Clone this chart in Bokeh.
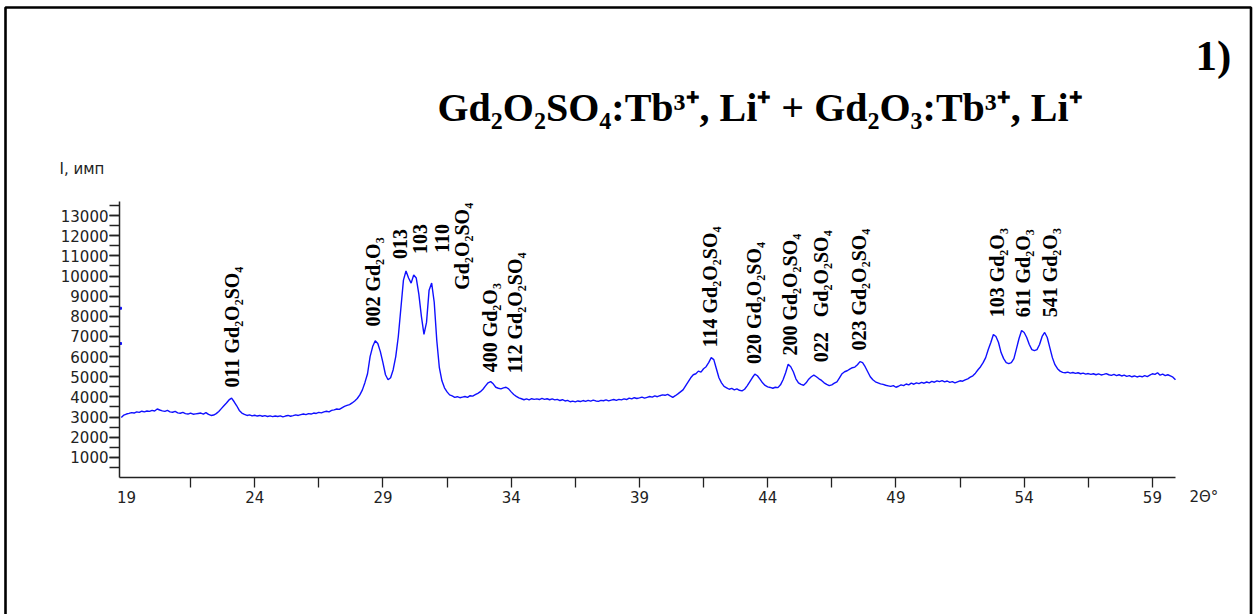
import math
from bokeh.plotting import figure
from bokeh.models import Range1d, FixedTicker, Label, ColumnDataSource, LinearAxis
from bokeh.embed import file_html
from bokeh.resources import INLINE
from bokeh.core.properties import value

# ---------------- data ----------------
two_theta = [
    18.8, 18.9,
    19.0, 19.1, 19.2, 19.3, 19.4, 19.5, 19.6, 19.7, 19.8, 19.9,
    20.0, 20.1, 20.2, 20.3, 20.4, 20.5, 20.6, 20.7, 20.8, 20.9,
    21.0, 21.1, 21.2, 21.3, 21.4, 21.5, 21.6, 21.7, 21.8, 21.9,
    22.0, 22.1, 22.2, 22.3, 22.4, 22.5, 22.6, 22.7, 22.8, 22.9,
    23.0, 23.1, 23.2, 23.3, 23.4, 23.5, 23.6, 23.7, 23.8, 23.9,
    24.0, 24.1, 24.2, 24.3, 24.4, 24.5, 24.6, 24.7, 24.8, 24.9,
    25.0, 25.1, 25.2, 25.3, 25.4, 25.5, 25.6, 25.7, 25.8, 25.9,
    26.0, 26.1, 26.2, 26.3, 26.4, 26.5, 26.6, 26.7, 26.8, 26.9,
    27.0, 27.1, 27.2, 27.3, 27.4, 27.5, 27.6, 27.7, 27.8, 27.9,
    28.0, 28.1, 28.2, 28.3, 28.4, 28.5, 28.6, 28.7, 28.8, 28.9,
    29.0, 29.1, 29.2, 29.3, 29.4, 29.5, 29.6, 29.7, 29.8, 29.9,
    30.0, 30.1, 30.2, 30.3, 30.4, 30.5, 30.6, 30.7, 30.8, 30.9,
    31.0, 31.1, 31.2, 31.3, 31.4, 31.5, 31.6, 31.7, 31.8, 31.9,
    32.0, 32.1, 32.2, 32.3, 32.4, 32.5, 32.6, 32.7, 32.8, 32.9,
    33.0, 33.1, 33.2, 33.3, 33.4, 33.5, 33.6, 33.7, 33.8, 33.9,
    34.0, 34.1, 34.2, 34.3, 34.4, 34.5, 34.6, 34.7, 34.8, 34.9,
    35.0, 35.1, 35.2, 35.3, 35.4, 35.5, 35.6, 35.7, 35.8, 35.9,
    36.0, 36.1, 36.2, 36.3, 36.4, 36.5, 36.6, 36.7, 36.8, 36.9,
    37.0, 37.1, 37.2, 37.3, 37.4, 37.5, 37.6, 37.7, 37.8, 37.9,
    38.0, 38.1, 38.2, 38.3, 38.4, 38.5, 38.6, 38.7, 38.8, 38.9,
    39.0, 39.1, 39.2, 39.3, 39.4, 39.5, 39.6, 39.7, 39.8, 39.9,
    40.0, 40.1, 40.2, 40.3, 40.4, 40.5, 40.6, 40.7, 40.8, 40.9,
    41.0, 41.1, 41.2, 41.3, 41.4, 41.5, 41.6, 41.7, 41.8, 41.9,
    42.0, 42.1, 42.2, 42.3, 42.4, 42.5, 42.6, 42.7, 42.8, 42.9,
    43.0, 43.1, 43.2, 43.3, 43.4, 43.5, 43.6, 43.7, 43.8, 43.9,
    44.0, 44.1, 44.2, 44.3, 44.4, 44.5, 44.6, 44.7, 44.8, 44.9,
    45.0, 45.1, 45.2, 45.3, 45.4, 45.5, 45.6, 45.7, 45.8, 45.9,
    46.0, 46.1, 46.2, 46.3, 46.4, 46.5, 46.6, 46.7, 46.8, 46.9,
    47.0, 47.1, 47.2, 47.3, 47.4, 47.5, 47.6, 47.7, 47.8, 47.9,
    48.0, 48.1, 48.2, 48.3, 48.4, 48.5, 48.6, 48.7, 48.8, 48.9,
    49.0, 49.1, 49.2, 49.3, 49.4, 49.5, 49.6, 49.7, 49.8, 49.9,
    50.0, 50.1, 50.2, 50.3, 50.4, 50.5, 50.6, 50.7, 50.8, 50.9,
    51.0, 51.1, 51.2, 51.3, 51.4, 51.5, 51.6, 51.7, 51.8, 51.9,
    52.0, 52.1, 52.2, 52.3, 52.4, 52.5, 52.6, 52.7, 52.8, 52.9,
    53.0, 53.1, 53.2, 53.3, 53.4, 53.5, 53.6, 53.7, 53.8, 53.9,
    54.0, 54.1, 54.2, 54.3, 54.4, 54.5, 54.6, 54.7, 54.8, 54.9,
    55.0, 55.1, 55.2, 55.3, 55.4, 55.5, 55.6, 55.7, 55.8, 55.9,
    56.0, 56.1, 56.2, 56.3, 56.4, 56.5, 56.6, 56.7, 56.8, 56.9,
    57.0, 57.1, 57.2, 57.3, 57.4, 57.5, 57.6, 57.7, 57.8, 57.9,
    58.0, 58.1, 58.2, 58.3, 58.4, 58.5, 58.6, 58.7, 58.8, 58.9,
    59.0, 59.1, 59.2, 59.3, 59.4, 59.5, 59.6, 59.7, 59.8, 59.9,
]

intensity = [
    2980, 3100,
    3150, 3180, 3220, 3200, 3260, 3230, 3290, 3260, 3300, 3280,
    3330, 3300, 3400, 3350, 3310, 3280, 3330, 3260, 3240, 3280,
    3210, 3190, 3230, 3170, 3150, 3200, 3140, 3160, 3180, 3200,
    3150, 3220, 3130, 3080, 3100, 3170, 3280, 3420, 3560, 3700,
    3850, 3940, 3760, 3560, 3330, 3200, 3130, 3080, 3110, 3060,
    3090, 3050, 3080, 3040, 3070, 3030, 3060, 3020, 3050, 3030,
    3060, 3010, 3050, 3080, 3040, 3070, 3110, 3080, 3120, 3150,
    3120, 3170, 3150, 3200, 3180, 3230, 3210, 3260, 3290, 3260,
    3330, 3360, 3400, 3380, 3460, 3530, 3580, 3620, 3700, 3800,
    3920, 4100, 4350, 4720, 5150, 6000, 6500, 6790, 6650, 6250,
    5700, 5100, 4850, 4950, 5350, 6000, 7000, 8400, 9800, 10250,
    9900, 9650, 10050, 9900, 9100, 8000, 7100, 7700, 9300, 9650,
    8700, 6800, 5450, 4800, 4450, 4250, 4100, 4050, 3980, 4010,
    3960, 3990, 4020, 3980, 4060, 4040, 4110, 4180, 4260, 4380,
    4550, 4700, 4760, 4650, 4480, 4430, 4400, 4450, 4480, 4400,
    4250, 4120, 4030, 3950, 3910, 3860, 3900, 3850, 3910, 3880,
    3900, 3870, 3930, 3880, 3910, 3860, 3900, 3850, 3880, 3820,
    3860, 3800, 3830, 3760, 3790, 3750, 3800, 3770, 3820, 3780,
    3830, 3790, 3840, 3800, 3780, 3830, 3810, 3850, 3800, 3840,
    3870, 3830, 3880, 3850, 3900, 3870, 3940, 3900, 3960, 3920,
    3950, 3990, 3940, 3980, 4020, 3990, 4050, 4010, 4060, 4100,
    4080, 4130, 4050, 3980, 4060, 4150, 4250, 4350, 4550, 4750,
    4950, 5100, 5150, 5280, 5230, 5400, 5500, 5700, 5950, 5850,
    5400, 4950, 4700, 4520, 4450, 4380, 4420, 4350, 4400, 4330,
    4300, 4380, 4550, 4750, 4950, 5130, 5050, 4880, 4700, 4570,
    4500, 4470, 4430, 4480, 4460, 4600, 4850, 5200, 5620, 5500,
    5250, 4900, 4700, 4620, 4580, 4700, 4880, 5000, 5080, 5000,
    4900, 4820, 4700, 4620, 4560, 4600, 4680, 4750, 4950, 5150,
    5250, 5300, 5380, 5450, 5480, 5600, 5750, 5700, 5500, 5250,
    5000, 4850, 4750, 4700, 4650, 4620, 4580, 4550, 4520, 4560,
    4480, 4530, 4600, 4560, 4640, 4600, 4680, 4630, 4700, 4660,
    4720, 4680, 4740, 4700, 4770, 4730, 4800, 4760, 4810, 4750,
    4790, 4720, 4760, 4700, 4750, 4800, 4780, 4850, 4900, 4980,
    5050, 5180, 5350, 5500, 5700, 5950, 6350, 6700, 7100, 7000,
    6700, 6200, 5900, 5700, 5650, 5700, 5900, 6400, 6900, 7300,
    7200, 6950, 6600, 6350, 6300, 6350, 6600, 7000, 7200, 6950,
    6450, 5950, 5600, 5400, 5280, 5220, 5200, 5230, 5180, 5210,
    5170, 5200, 5150, 5180, 5130, 5160, 5120, 5150, 5100, 5140,
    5090, 5120, 5160, 5100, 5070, 5120, 5060, 5100, 5040, 5080,
    5020, 5060, 5000, 5040, 4990, 5030, 5000, 5060, 5010, 5080,
    5150, 5120, 5200, 5080, 5130, 5060, 5100, 5040, 4980, 4850,
]

# isolated points at the very start of the scan
start_theta = [18.77, 18.77]
start_intensity = [8400, 6650]

x_tick_values = [19, 24, 29, 34, 39, 44, 49, 54, 59]
x_tick_marks = [21.5, 24, 26.5, 29, 31.5, 34, 36.5, 39, 41.5, 44, 46.5, 49, 51.5, 54, 56.5, 59]
y_tick_values = [1000, 2000, 3000, 4000, 5000, 6000, 7000, 8000, 9000, 10000, 11000, 12000, 13000]
y_tick_marks = [500, 1000, 1500, 2000, 2500, 3000, 3500, 4000, 4500, 5000, 5500, 6000, 6500,
                7000, 7500, 8000, 8500, 9000, 9500, 10000, 10500, 11000, 11500, 12000, 12500,
                13000, 13500]

peak_text = [
    "011 Gd₂O₂SO₄",
    "002 Gd₂O₃",
    "013",
    "103",
    "110",
    "Gd₂O₂SO₄",
    "400 Gd₂O₃",
    "112 Gd₂O₂SO₄",
    "114 Gd₂O₂SO₄",
    "020 Gd₂O₂SO₄",
    "200 Gd₂O₂SO₄",
    "022 \u00a0\u00a0Gd₂O₂SO₄",
    "023 Gd₂O₂SO₄",
    "103 Gd₂O₃",
    "611 Gd₂O₃",
    "541 Gd₂O₃",
]
peak_theta = [23.13, 28.63, 29.66, 30.46, 31.31, 32.09, 33.19, 34.13,
              41.77, 43.48, 44.89, 46.06, 47.55, 52.94, 53.97, 55.02]
peak_level = [4470, 7490, 10850, 11100, 11150, 9320, 5220, 5170,
              6460, 5640, 6050, 5720, 6300, 7950, 7950, 7950]

title_text = "Gd₂O₂SO₄:Tb³⁺, Li⁺ + Gd₂O₃:Tb³⁺, Li⁺"
panel_text = "1)"
y_title = "I, имп"
x_title = "2Θ°"

# ---------------- layout (pixels of the page) ----------------
W, H = 1256, 614
X0, X1 = 18.73, 59.9          # extent of the x axis
Y0, Y1 = 0, 13700             # extent of the y axis
FRAME_L, FRAME_R, FRAME_T, FRAME_B = 119, 1175, 201, 477

sx = (X1 - X0) / (FRAME_R - FRAME_L)
sy = (Y1 - Y0) / (FRAME_B - FRAME_T)


def px_x(px):
    return X0 + (px - FRAME_L) * sx


def px_y(py):
    return Y0 + (FRAME_B - py) * sy


p = figure(width=W, height=H,
           x_range=Range1d(px_x(0), px_x(W)), y_range=Range1d(px_y(H), px_y(0)),
           output_backend="svg", toolbar_location=None,
           x_axis_location=None, y_axis_location=None,
           min_border=0, min_border_left=0, min_border_right=0,
           min_border_top=0, min_border_bottom=0)
p.title.visible = False
p.outline_line_color = None
p.xgrid.visible = False
p.ygrid.visible = False
p.background_fill_color = "white"
p.border_fill_color = "white"

axis_color = "#222222"
label_font = "DejaVu Sans"

xa = LinearAxis(fixed_location=Y0, bounds=(X0, X1))
xa.ticker = FixedTicker(ticks=x_tick_values, minor_ticks=x_tick_marks)
xa.major_tick_line_color = None
xa.major_tick_out = 10
xa.major_tick_in = 0
xa.minor_tick_out = 10
xa.minor_tick_in = 0
xa.minor_tick_line_color = axis_color
xa.minor_tick_line_width = 1.3
xa.axis_line_color = axis_color
xa.axis_line_width = 1.5
xa.major_label_standoff = 3
xa.major_label_text_font = label_font
xa.major_label_text_font_size = "15px"
xa.major_label_text_color = "#222222"
p.add_layout(xa, "below")

ya = LinearAxis(fixed_location=X0, bounds=(Y0, Y1))
ya.ticker = FixedTicker(ticks=y_tick_values, minor_ticks=y_tick_marks)
ya.major_tick_out = 10
ya.major_tick_in = 0
ya.major_tick_line_color = axis_color
ya.major_tick_line_width = 1.3
ya.minor_tick_out = 10
ya.minor_tick_in = 0
ya.minor_tick_line_color = axis_color
ya.minor_tick_line_width = 1.3
ya.axis_line_color = axis_color
ya.axis_line_width = 1.5
ya.major_label_standoff = 1
ya.major_label_text_font = label_font
ya.major_label_text_font_size = "15px"
ya.major_label_text_color = "#222222"
p.add_layout(ya, "left")

# outer frame of the figure (open at the bottom)
p.line([px_x(5), px_x(5), px_x(1250.5), px_x(1250.5)],
       [px_y(H + 5), px_y(7), px_y(7), px_y(H + 5)],
       line_color="#000000", line_width=2.6)

curve = ColumnDataSource(data=dict(x=two_theta, y=intensity))
p.line("x", "y", source=curve, line_color="#1010ff", line_width=1.4)
p.scatter(start_theta, start_intensity, marker="square", size=2,
          color="#1010ff")

labels = ColumnDataSource(data=dict(x=peak_theta, y=peak_level, t=peak_text))
p.text("x", "y", text="t", source=labels, angle=math.pi / 2,
       text_align="left", text_baseline="middle",
       text_font=value("Liberation Serif"), text_font_style="bold",
       text_font_size="20px", text_color="#000000")

p.add_layout(Label(x=px_x(437), y=px_y(107), text=title_text,
                   text_font="Liberation Serif", text_font_style="bold",
                   text_font_size="40px", text_color="#000000",
                   text_align="left", text_baseline="alphabetic"))
p.add_layout(Label(x=px_x(1195), y=px_y(55), text=panel_text,
                   text_font="Liberation Serif", text_font_style="bold",
                   text_font_size="43px", text_color="#000000",
                   text_align="left", text_baseline="alphabetic"))
p.add_layout(Label(x=px_x(59), y=px_y(168), text=y_title,
                   text_font=label_font, text_font_size="15px",
                   text_color="#222222", text_align="left",
                   text_baseline="alphabetic"))
p.add_layout(Label(x=px_x(1189), y=px_y(496), text=x_title,
                   text_font=label_font, text_font_size="15px",
                   text_color="#222222", text_align="left",
                   text_baseline="alphabetic"))

open("out.html", "w").write(file_html(p, INLINE))
